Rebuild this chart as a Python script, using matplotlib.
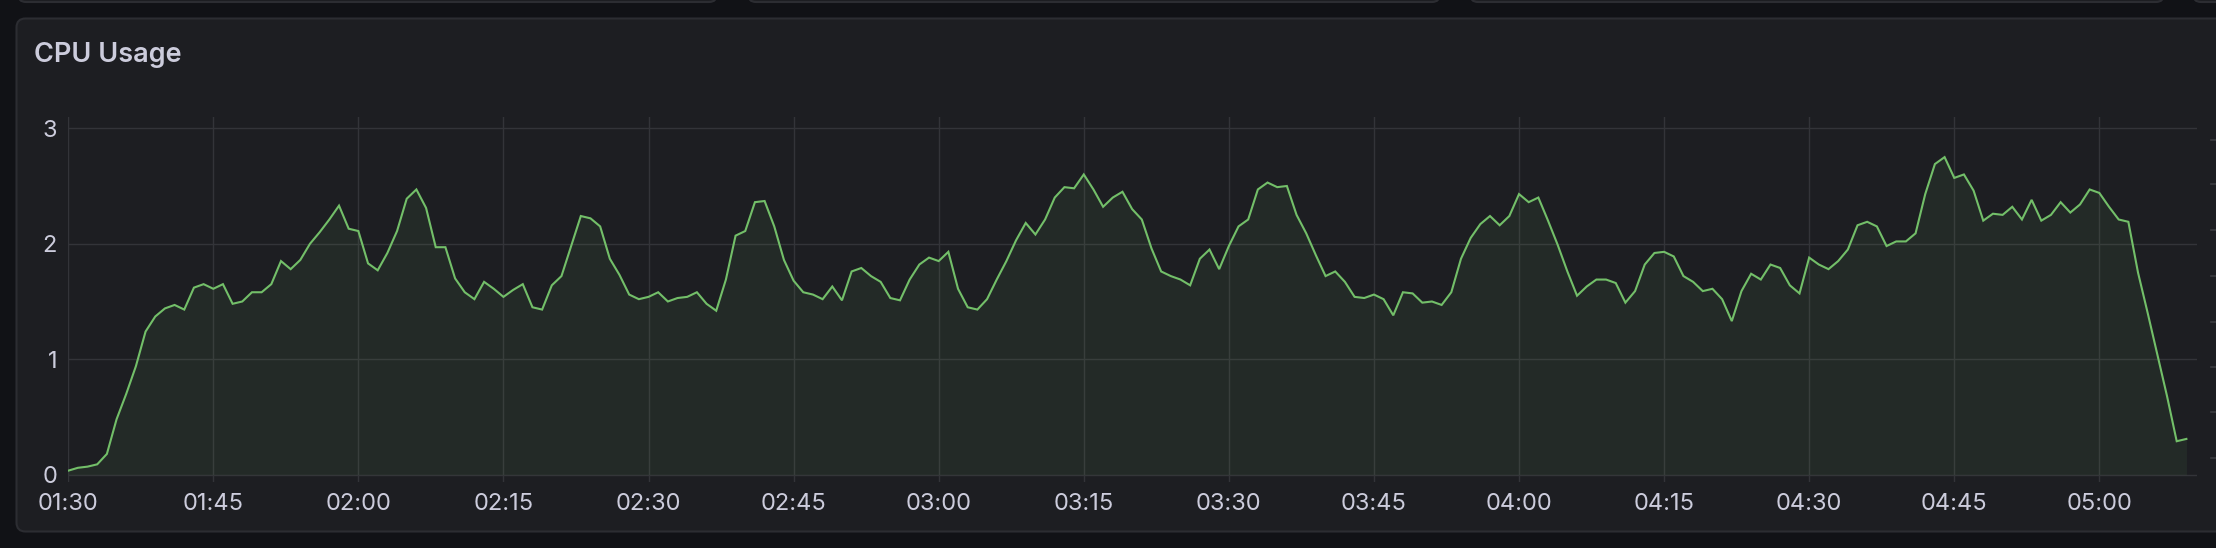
import matplotlib
matplotlib.use("Agg")
import matplotlib.pyplot as plt
import matplotlib.dates as mdates
from matplotlib.patches import FancyBboxPatch
from matplotlib.lines import Line2D
from matplotlib.transforms import IdentityTransform
import numpy as np
import pandas as pd

# chart data: CPU usage, one sample per minute from 01:30
start_time = "2024-01-01 01:30"
cpu_usage = [
    0.035, 0.06, 0.07, 0.09, 0.18, 0.48, 0.70, 0.94, 1.24, 1.37,
    1.44, 1.47, 1.43, 1.62, 1.65, 1.61, 1.65, 1.48, 1.50, 1.58,
    1.58, 1.65, 1.85, 1.78, 1.86, 2.00, 2.10, 2.21, 2.33, 2.13,
    2.11, 1.83, 1.77, 1.92, 2.11, 2.39, 2.47, 2.31, 1.97, 1.97,
    1.70, 1.58, 1.52, 1.67, 1.61, 1.54, 1.60, 1.65, 1.45, 1.43,
    1.64, 1.72, 1.98, 2.24, 2.22, 2.15, 1.87, 1.73, 1.56, 1.52,
    1.54, 1.58, 1.50, 1.53, 1.54, 1.58, 1.48, 1.42, 1.69, 2.07,
    2.11, 2.36, 2.37, 2.15, 1.86, 1.68, 1.58, 1.56, 1.52, 1.63,
    1.51, 1.76, 1.79, 1.72, 1.67, 1.53, 1.51, 1.69, 1.82, 1.88,
    1.85, 1.93, 1.61, 1.45, 1.43, 1.52, 1.69, 1.85, 2.03, 2.18,
    2.08, 2.21, 2.40, 2.49, 2.48, 2.60, 2.47, 2.32, 2.40, 2.45,
    2.30, 2.21, 1.96, 1.76, 1.72, 1.69, 1.64, 1.87, 1.95, 1.78,
    1.98, 2.15, 2.21, 2.47, 2.53, 2.49, 2.50, 2.25, 2.09, 1.90,
    1.72, 1.76, 1.67, 1.54, 1.53, 1.56, 1.52, 1.38, 1.58, 1.57,
    1.49, 1.50, 1.47, 1.58, 1.87, 2.05, 2.17, 2.24, 2.16, 2.24,
    2.43, 2.36, 2.40, 2.20, 1.99, 1.76, 1.55, 1.63, 1.69, 1.69,
    1.66, 1.49, 1.59, 1.82, 1.92, 1.93, 1.89, 1.72, 1.67, 1.59,
    1.61, 1.52, 1.33, 1.59, 1.74, 1.69, 1.82, 1.79, 1.64, 1.57,
    1.88, 1.82, 1.78, 1.85, 1.95, 2.16, 2.19, 2.15, 1.98, 2.02,
    2.02, 2.09, 2.43, 2.69, 2.75, 2.57, 2.60, 2.46, 2.20, 2.26,
    2.25, 2.32, 2.21, 2.38, 2.20, 2.25, 2.36, 2.27, 2.34, 2.47,
    2.44, 2.32, 2.21, 2.19, 1.75, 1.40, 1.04, 0.68, 0.29, 0.31,
]
y_ticks = [0, 1, 2, 3]
title = "CPU Usage"

times = pd.date_range(start_time, periods=len(cpu_usage), freq="1min")

# colours (dark dashboard theme)
BG_OUTER = "#111216"
BG_PANEL = "#1d1e22"
BORDER = "#2c2d32"
TEXT = "#ccccdc"
GRID = "#333439"
GREEN = "#73bf69"

W, H = 2216, 548
fig = plt.figure(figsize=(W / 100, H / 100), dpi=100, facecolor=BG_OUTER)

# panels drawn in pixel coordinates, behind the axes
ident = IdentityTransform()
for x0, x1 in [(18, 717), (748, 1440), (1470, 2164), (2193, 2300)]:
    fig.patches.append(FancyBboxPatch(
        (x0, H - 2), x1 - x0, 60, boxstyle="round,pad=0,rounding_size=8",
        facecolor=BG_PANEL, edgecolor=BORDER, linewidth=1.5,
        transform=ident, zorder=-5))
fig.patches.append(FancyBboxPatch(
    (16.5, H - 531.5), 2260, 513, boxstyle="round,pad=0,rounding_size=9",
    facecolor=BG_PANEL, edgecolor=BORDER, linewidth=1.5,
    transform=ident, zorder=-5))
for yy in [140, 184, 230, 276, 322, 367, 412, 458]:
    fig.lines.append(Line2D([2211, 2216], [H - yy, H - yy], color="#3a3b40",
                            linewidth=1.2, transform=ident, zorder=-4))

fig.text(34 / W, 1 - 61.5 / H, title, fontsize=19.5, fontweight="semibold",
         family=["Inter", "DejaVu Sans"], color=TEXT, va="baseline", ha="left")

# plot area
ax = fig.add_axes([68.2 / W, 1 - 482 / H, (2196.7 - 68.2) / W, (482 - 116.7) / H])
ax.set_facecolor("none")
ax.fill_between(times, cpu_usage, 0, color=GREEN, alpha=0.08, linewidth=0)
ax.plot(times, cpu_usage, color=GREEN, linewidth=1.5, solid_joinstyle="miter")

ax.set_xlim(times[0], times[-1] + pd.Timedelta(seconds=64))
ax.set_ylim(-0.063, 3.1)
ax.set_yticks(y_ticks)
ax.xaxis.set_major_locator(mdates.MinuteLocator(byminute=[0, 15, 30, 45]))
ax.xaxis.set_major_formatter(mdates.DateFormatter("%H:%M"))

ax.grid(True, color=GRID, linewidth=1.0)
ax.set_axisbelow(True)
for s in ax.spines.values():
    s.set_visible(False)
ax.tick_params(length=0, labelsize=17, colors=TEXT)
ax.tick_params(axis="y", pad=8)
ax.tick_params(axis="x", pad=8)
for lbl in ax.get_xticklabels() + ax.get_yticklabels():
    lbl.set_family(["Inter", "DejaVu Sans"])

fig.savefig("out.png", dpi=100, facecolor=BG_OUTER)
